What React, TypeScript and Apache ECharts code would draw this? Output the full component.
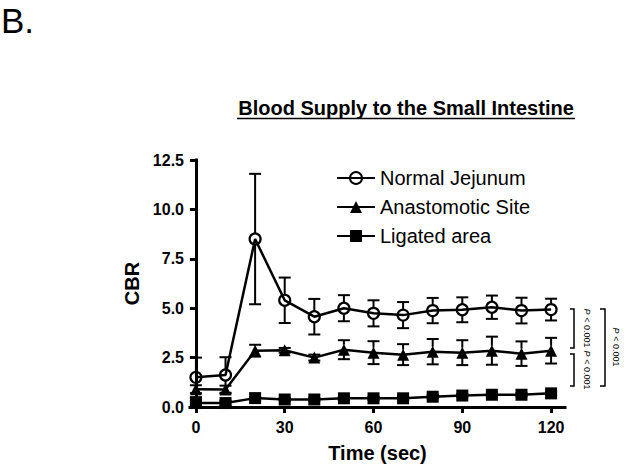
import React, { useEffect, useRef } from "react";
import * as echarts from "echarts";

const TIMES = [0, 10, 20, 30, 40, 50, 60, 70, 80, 90, 100, 110, 120];
const NORMAL = [1.5, 1.62, 8.5, 5.4, 4.57, 5.0, 4.74, 4.65, 4.88, 4.92, 5.05, 4.88, 4.93];
const NORMAL_SEM = [1.0, 0.9, 3.3, 1.15, 0.9, 0.66, 0.66, 0.66, 0.64, 0.63, 0.59, 0.65, 0.55];
const ANAST = [0.9, 0.88, 2.85, 2.87, 2.5, 2.9, 2.75, 2.65, 2.8, 2.75, 2.85, 2.7, 2.85];
const ANAST_SEM = [0.2, 0.2, 0.3, 0.12, 0.15, 0.48, 0.58, 0.53, 0.64, 0.63, 0.71, 0.62, 0.65];
const LIGATED = [0.2, 0.2, 0.45, 0.38, 0.38, 0.44, 0.44, 0.44, 0.52, 0.58, 0.62, 0.62, 0.69];
const LIGATED_SEM = [0.12, 0.12, 0.08, 0.08, 0.08, 0.08, 0.08, 0.08, 0.08, 0.08, 0.08, 0.08, 0.08];
const SERIES_NAMES = ["Normal Jejunum", "Anastomotic Site", "Ligated area"];
const X_TICKS = [0, 30, 60, 90, 120];
const P_TEXT = "< 0.001";

const FONT = "'Liberation Sans', Arial, Helvetica, sans-serif";

function errData(mean: number[], sem: number[]) {
  return TIMES.map((t, i) => [t, mean[i], mean[i] - sem[i], mean[i] + sem[i]]);
}

function makeErrRender(radius: number) {
  return (params: any, api: any) => {
    const x = api.value(0);
    const c = api.coord([x, api.value(1)]);
    const lo = api.coord([x, api.value(2)]);
    const hi = api.coord([x, api.value(3)]);
    const hw = 6;
    const st = { stroke: "#000", lineWidth: 2 };
    const children: any[] = [];
    if (hi[1] < c[1] - radius) {
      children.push({ type: "line", shape: { x1: c[0], y1: c[1] - radius, x2: hi[0], y2: hi[1] }, style: st });
    }
    if (lo[1] > c[1] + radius) {
      children.push({ type: "line", shape: { x1: c[0], y1: c[1] + radius, x2: lo[0], y2: lo[1] }, style: st });
    }
    children.push({ type: "line", shape: { x1: hi[0] - hw, y1: hi[1], x2: hi[0] + hw, y2: hi[1] }, style: st });
    children.push({ type: "line", shape: { x1: lo[0] - hw, y1: lo[1], x2: lo[0] + hw, y2: lo[1] }, style: st });
    return { type: "group", children };
  };
}

function pText(x: number, y: number) {
  return {
    type: "text",
    x,
    y,
    rotation: -Math.PI / 2,
    style: {
      text: "{i|P}{n| " + P_TEXT + "}",
      align: "center",
      verticalAlign: "middle",
      fill: "#000",
      rich: {
        i: { fontStyle: "italic", fontSize: 9, fontFamily: FONT, fill: "#000" },
        n: { fontSize: 9, fontFamily: FONT, fill: "#000" },
      },
    },
  };
}

function bracket(x: number, y1: number, y2: number, arm: number) {
  return {
    type: "polyline",
    shape: { points: [[x - arm, y1], [x, y1], [x, y2], [x - arm, y2]] },
    style: { stroke: "#000", lineWidth: 1.5, fill: "none" },
  };
}

export default function App() {
  const ref = useRef<HTMLDivElement>(null);
  useEffect(() => {
    if (!ref.current) return;
    const chart = echarts.init(ref.current, null, { renderer: "svg" });
    const lineCommon = {
      type: "line",
      clip: false,
      z: 3,
      lineStyle: { color: "#000", width: 2.5 },
      emphasis: { disabled: true },
    };
    const errCommon = {
      type: "custom",
      clip: false,
      z: 2,
      silent: true,
      encode: { x: 0, y: [1, 2, 3] },
    };
    chart.setOption({
      animation: false,
      backgroundColor: "#fff",
      textStyle: { fontFamily: FONT },
      grid: { left: 190, right: 59, top: 160, bottom: 62, containLabel: false, outerBoundsMode: "none" },
      legend: {
        data: SERIES_NAMES,
        orient: "vertical",
        left: 336,
        top: 168,
        padding: 0,
        itemWidth: 38,
        itemHeight: 15,
        itemGap: 9,
        selectedMode: false,
        textStyle: { fontSize: 20, lineHeight: 20, color: "#000", fontFamily: FONT },
      },
      xAxis: {
        type: "value",
        min: -2,
        max: 124.7,
        name: "Time (sec)",
        nameLocation: "middle",
        nameGap: 36,
        nameTextStyle: { fontSize: 20, fontWeight: "bold", color: "#000", fontFamily: FONT },
        axisLine: { lineStyle: { color: "#000", width: 3, cap: "square" } },
        axisTick: { customValues: X_TICKS, length: 6, lineStyle: { color: "#000", width: 3 } },
        axisLabel: {
          customValues: X_TICKS,
          margin: 12,
          fontSize: 16,
          fontWeight: "bold",
          color: "#000",
          fontFamily: FONT,
        },
        splitLine: { show: false },
      },
      yAxis: {
        type: "value",
        min: 0,
        max: 12.5,
        interval: 2.5,
        name: "CBR",
        nameLocation: "middle",
        nameGap: 47,
        nameTextStyle: { fontSize: 20, fontWeight: "bold", color: "#000", fontFamily: FONT },
        axisLine: { show: true, lineStyle: { color: "#000", width: 3, cap: "square" } },
        axisTick: { show: true, length: 6, lineStyle: { color: "#000", width: 3 } },
        axisLabel: {
          margin: 6,
          fontSize: 16,
          fontWeight: "bold",
          color: "#000",
          fontFamily: FONT,
          formatter: (v: number) => v.toFixed(1),
        },
        splitLine: { show: false },
      },
      series: [
        { ...errCommon, name: "errN", data: errData(NORMAL, NORMAL_SEM), renderItem: makeErrRender(6) },
        { ...errCommon, name: "errA", data: errData(ANAST, ANAST_SEM), renderItem: makeErrRender(5) },
        { ...errCommon, name: "errL", data: errData(LIGATED, LIGATED_SEM), renderItem: makeErrRender(6) },
        {
          ...lineCommon,
          name: SERIES_NAMES[0],
          data: TIMES.map((t, i) => [t, NORMAL[i]]),
          symbol: "circle",
          symbolSize: 11,
          itemStyle: { color: "rgba(255,255,255,0)", borderColor: "#000", borderWidth: 2.2 },
        },
        {
          ...lineCommon,
          name: SERIES_NAMES[1],
          data: TIMES.map((t, i) => [t, ANAST[i]]),
          symbol: "triangle",
          symbolSize: 12,
          itemStyle: { color: "#000" },
        },
        {
          ...lineCommon,
          name: SERIES_NAMES[2],
          data: TIMES.map((t, i) => [t, LIGATED[i]]),
          symbol: "rect",
          symbolSize: 12,
          itemStyle: { color: "#000" },
        },
      ],
      graphic: [
        {
          type: "text",
          x: 1,
          y: 20,
          style: {
            text: "B.",
            fontSize: 35,
            lineHeight: 35,
            fontFamily: FONT,
            fill: "#000",
            align: "left",
            verticalAlign: "middle",
          },
        },
        {
          type: "text",
          x: 406,
          y: 108,
          style: {
            text: "Blood Supply to the Small Intestine",
            fontSize: 20,
            fontWeight: "bold",
            fontFamily: FONT,
            fill: "#000",
            align: "center",
            verticalAlign: "middle",
          },
        },
        {
          type: "line",
          shape: { x1: 237, y1: 118.5, x2: 575, y2: 118.5 },
          style: { stroke: "#000", lineWidth: 1.5 },
        },
        bracket(574, 309, 348, 4),
        bracket(574, 354, 386, 4),
        bracket(605, 309, 386, 5),
        pText(587, 328),
        pText(587, 370),
        pText(616, 347),
      ],
    });
    return () => chart.dispose();
  }, []);
  return (
    <div
      ref={ref}
      style={{ position: "fixed", left: 0, top: 0, width: 624, height: 469, background: "#fff" }}
    />
  );
}
